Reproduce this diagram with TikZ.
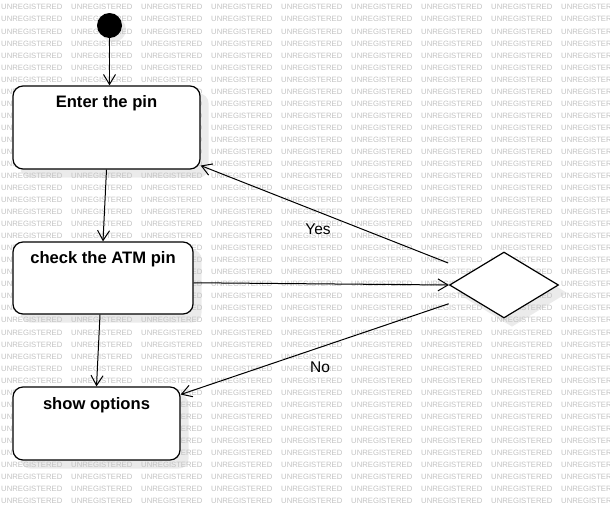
\documentclass[tikz,border=0pt]{standalone}
\usepackage{fontspec}
\setmainfont{Liberation Sans}
\usetikzlibrary{positioning,shapes.geometric,arrows.meta}

\pgfdeclarelayer{shade}
\pgfdeclarelayer{wmark}
\pgfsetlayers{shade,wmark,main}

\tikzset{
  state/.style={draw, line width=1.2pt, fill=white, rounded corners=10pt, inner sep=0pt},
  statename/.style={font=\fontsize{16.6}{18}\selectfont\bfseries, inner sep=0pt, anchor=base},
  choice/.style={draw, diamond, line width=1.2pt, fill=white, inner sep=0pt,
                 minimum width=109pt, minimum height=66pt},
  flow/.style={line width=1pt, -{Straight Barb[length=10pt,width=12pt]}},
  guard/.style={font=\fontsize{15.5}{17}\selectfont, inner sep=1pt},
  wm/.style={font=\fontsize{7.7}{8}\selectfont, text=black!24, inner sep=0pt, anchor=west},
  shadowc/.style={fill=black!8}
}

\begin{document}
\begin{tikzpicture}[x=1pt, y=-1pt]
  \useasboundingbox (0,0) rectangle (610,512);
  \clip (0,0) rectangle (610,512);

  % states
  \node[circle, fill=black, minimum size=25pt, inner sep=0pt] (start) at (109.5,25.5) {};
  \node[state, minimum width=187pt, minimum height=83pt] (enter) at (106.5,127.5) {};
  \node[statename] (enterlbl) at ([yshift=-22pt]enter.north) {Enter the pin};
  \node[state, minimum width=180pt, minimum height=72pt] (check) at (103,278) {};
  \node[statename] (checklbl) at ([yshift=-22pt]check.north) {check the ATM pin};
  \node[state, minimum width=167pt, minimum height=73pt] (show) at (96.5,423.5) {};
  \node[statename] (showlbl) at ([yshift=-23pt]show.north) {show options};
  \node[choice] (dec) at (504,285) {};

  % transitions
  \draw[flow] (start) -- (start |- enter.north);
  \draw[flow] (enter.south) -- (check.north);
  \draw[flow] ([xshift=-3pt]check.south) -- (show.north);
  \draw[flow] (check.-3) -- (dec.west);
  \draw[flow, shorten <=24pt] (dec) -- (enter.-22);
  \draw[flow, shorten <=21pt] (dec) -- (show.19);
  \node[guard] (yes) at (318,229) {Yes};
  \node[guard] (no) at (320,367) {No};

  % shadows
  \begin{pgfonlayer}{shade}
    \foreach \s in {enter,check,show}
      \fill[shadowc, rounded corners=10pt] ([shift={(8,8)}]\s.south west) rectangle ([shift={(8,8)}]\s.north east);
    \fill[shadowc] ([shift={(8,8)}]dec.north) -- ([shift={(8,8)}]dec.east)
      -- ([shift={(8,8)}]dec.south) -- ([shift={(8,8)}]dec.west) -- cycle;
    \fill[shadowc] ([shift={(4,4)}]start) circle [radius=12.5pt];
  \end{pgfonlayer}

  % watermark
  \begin{pgfonlayer}{wmark}
    \foreach \r in {0,...,41}
      \foreach \c in {0,...,8}
        \node[wm] (wm-\r-\c) at (1+70*\c, 7.3+12.04*\r) {UNREGISTERED};
  \end{pgfonlayer}
\end{tikzpicture}
\end{document}
